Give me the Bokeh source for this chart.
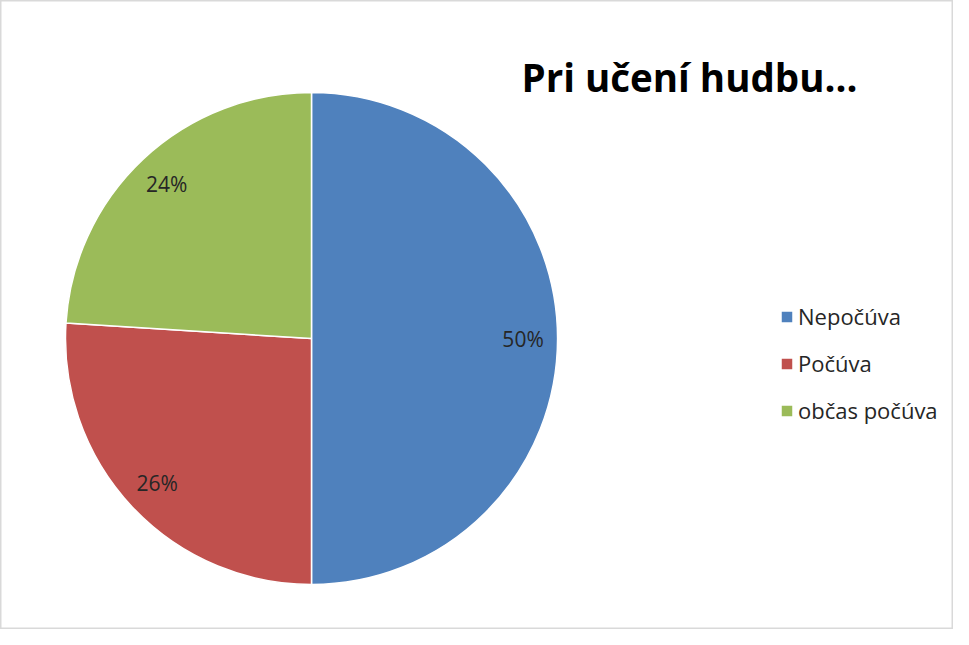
import math

from bokeh.plotting import figure
from bokeh.models import ColumnDataSource, Legend, LegendItem, Label
from bokeh.core.properties import value
from bokeh.embed import file_html
from bokeh.resources import INLINE

# data
categories = ["Nepočúva", "Počúva", "občas počúva"]
shares = [50, 26, 24]
title_text = "Pri učení hudbu..."

PALETTE = ["#4F81BD", "#C0504D", "#9BBB59"]

W, H = 953, 629
CX, CY, R = 311, 291, 246

total = float(sum(shares))
starts, ends, mids = [], [], []
angle = math.pi / 2
for s in shares:
    sweep = s / total * 2 * math.pi
    # slices go clockwise from 12 o'clock
    starts.append(angle - sweep)
    ends.append(angle)
    mids.append(angle - sweep / 2)
    angle -= sweep

src = ColumnDataSource(dict(
    cat=categories,
    share=shares,
    start=starts,
    end=ends,
    color=PALETTE,
    lx=[CX + 0.86 * R * math.cos(m) for m in mids],
    ly=[CY + 0.86 * R * math.sin(m) for m in mids],
    lbl=["%d%%" % s for s in shares],
))

p = figure(width=W, height=H, x_range=(0, W), y_range=(0, H),
           x_axis_type=None, y_axis_type=None,
           output_backend="svg", toolbar_location=None, min_border=0)
p.grid.visible = False
p.outline_line_color = "#d9d9d9"
p.outline_line_width = 2
p.background_fill_color = "white"

wedges = p.wedge(x=CX, y=CY, radius=R, start_angle="start", end_angle="end",
                 fill_color="color", line_color="white", line_width=1.5,
                 source=src)

p.text(x="lx", y="ly", text="lbl", source=src,
       text_font=value("Open Sans"), text_font_size="21px",
       text_color="#262626", text_align="center", text_baseline="middle")

p.add_layout(Label(x=689, y=553, text=title_text,
                   text_font="Open Sans", text_font_style="bold",
                   text_font_size="38.5px", text_color="#000000",
                   text_align="center", text_baseline="alphabetic"))

legend = Legend(items=[LegendItem(label=c, renderers=[wedges], index=i)
                       for i, c in enumerate(categories)],
                location=(779, 204))
legend.glyph_width = 15
legend.glyph_height = 15
legend.label_standoff = 4
legend.spacing = 17
legend.padding = 0
legend.margin = 0
legend.border_line_color = None
legend.background_fill_alpha = 0
legend.label_text_font = "Open Sans"
legend.label_text_font_size = "22px"
legend.label_text_color = "#262626"
p.add_layout(legend, "center")

open("out.html", "w").write(file_html(p, INLINE))
